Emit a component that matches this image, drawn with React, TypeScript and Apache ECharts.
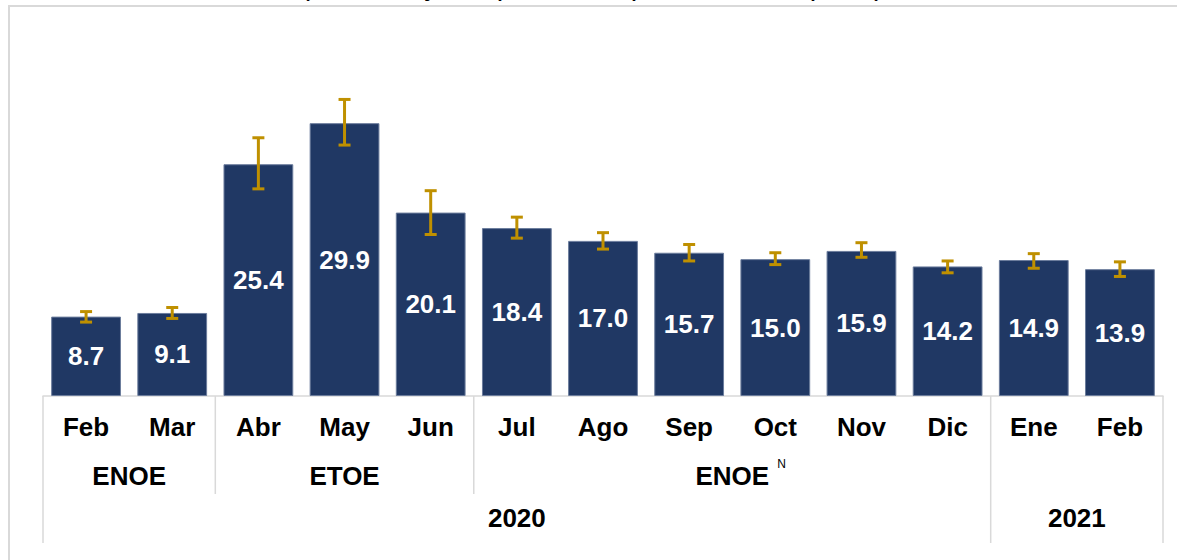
import React, { useEffect, useRef } from 'react';
import * as echarts from 'echarts';

const months = ['Feb', 'Mar', 'Abr', 'May', 'Jun', 'Jul', 'Ago', 'Sep', 'Oct', 'Nov', 'Dic', 'Ene', 'Feb'];
const values = [8.7, 9.1, 25.4, 29.9, 20.1, 18.4, 17.0, 15.7, 15.0, 15.9, 14.2, 14.9, 13.9];
const errLow = [8.1, 8.5, 22.7, 27.5, 17.7, 17.3, 16.1, 14.8, 14.4, 15.2, 13.5, 14.0, 13.1];
const errHigh = [9.25, 9.7, 28.3, 32.5, 22.5, 19.6, 17.9, 16.6, 15.7, 16.8, 14.8, 15.6, 14.7];
const surveyLabels = ['ENOE', 'ETOE', 'ENOE'];
const surveySup = ['', '', 'N'];
const surveyStart = [0, 2, 5];
const surveyEnd = [1, 4, 10];
const yearLabels = ['2020', '2021'];
const yearStart = [0, 11];
const yearEnd = [10, 12];
const titleText = '(Porcentaje respecto a la población ocupada)';

const FONT = 'Liberation Sans, Arial, sans-serif';
const GRID = '#d9d9d9';

export default function App() {
  const ref = useRef<HTMLDivElement>(null);
  useEffect(() => {
    document.body.style.margin = '0';
    const chart = echarts.init(ref.current!, null, { renderer: 'svg' });
    chart.setOption({
      animation: false,
      grid: { left: 43, right: 14, top: 31, bottom: 164 },
      xAxis: {
        type: 'category',
        data: months,
        axisLine: { lineStyle: { color: GRID, width: 1.5 } },
        axisTick: { show: false },
        axisLabel: { color: '#000', fontWeight: 'bold', fontSize: 26, fontFamily: FONT, margin: 18, interval: 0 },
      },
      yAxis: { type: 'value', min: 0, max: 40, show: false },
      series: [
        {
          type: 'bar',
          data: values,
          barCategoryGap: '19%',
          itemStyle: { color: '#203864', borderColor: '#6b7c9c', borderWidth: 1 },
          label: {
            show: true,
            position: 'inside',
            color: '#fff',
            fontWeight: 'bold',
            fontSize: 26,
            fontFamily: FONT,
            formatter: (p: any) => values[p.dataIndex].toFixed(1),
          },
        },
        {
          type: 'custom',
          z: 10,
          encode: { x: 0, y: [1, 2] },
          data: months.map((_, i) => [i, errLow[i], errHigh[i]]),
          renderItem: (params: any, api: any) => {
            const x = api.value(0);
            const pHi = api.coord([x, api.value(2)]);
            const pLo = api.coord([x, api.value(1)]);
            const cap = 6;
            const st = { stroke: '#BF9000', lineWidth: 3 };
            return {
              type: 'group',
              children: [
                { type: 'line', shape: { x1: pHi[0], y1: pHi[1], x2: pLo[0], y2: pLo[1] }, style: st },
                { type: 'line', shape: { x1: pHi[0] - cap, y1: pHi[1], x2: pHi[0] + cap, y2: pHi[1] }, style: st },
                { type: 'line', shape: { x1: pLo[0] - cap, y1: pLo[1], x2: pLo[0] + cap, y2: pLo[1] }, style: st },
              ],
            };
          },
        },
      ],
    });

    const cx = (i: number) => chart.convertToPixel({ xAxisIndex: 0 }, i) as number;
    const band = cx(1) - cx(0);
    const leftOf = (i: number) => cx(i) - band / 2;
    const rightOf = (i: number) => cx(i) + band / 2;
    const y0 = chart.convertToPixel({ yAxisIndex: 0 }, 0) as number;

    const graphics: any[] = [
      {
        type: 'rect',
        z: -10,
        shape: { x: 9, y: 6, width: 1400, height: 800 },
        style: { fill: 'none', stroke: GRID, lineWidth: 2 },
      },
      {
        type: 'text',
        x: 592,
        y: -1,
        style: { text: titleText, font: `29px ${FONT}`, fill: '#000', align: 'center', verticalAlign: 'bottom' },
      },
    ];
    const vline = (x: number, len: number) => ({
      type: 'line',
      shape: { x1: x, y1: y0, x2: x, y2: y0 + len },
      style: { stroke: GRID, lineWidth: 1.5 },
    });
    for (let k = 1; k < surveyStart.length; k++) graphics.push(vline(leftOf(surveyStart[k]), 98));
    yearStart.forEach((s) => graphics.push(vline(leftOf(s), 147)));
    graphics.push(vline(rightOf(yearEnd[yearEnd.length - 1]), 147));

    surveyLabels.forEach((t, k) => {
      const c = (leftOf(surveyStart[k]) + rightOf(surveyEnd[k])) / 2;
      graphics.push({
        type: 'text',
        x: c,
        y: y0 + 80,
        style: { text: t, font: `bold 26px ${FONT}`, fill: '#000', align: 'center', verticalAlign: 'middle' },
      });
      if (surveySup[k]) {
        graphics.push({
          type: 'text',
          x: c + 45,
          y: y0 + 68,
          style: { text: surveySup[k], font: `12px ${FONT}`, fill: '#000', align: 'left', verticalAlign: 'middle' },
        });
      }
    });
    yearLabels.forEach((t, k) => {
      const c = (leftOf(yearStart[k]) + rightOf(yearEnd[k])) / 2;
      graphics.push({
        type: 'text',
        x: c,
        y: y0 + 122,
        style: { text: t, font: `bold 26px ${FONT}`, fill: '#000', align: 'center', verticalAlign: 'middle' },
      });
    });
    chart.setOption({ graphic: graphics });

    return () => chart.dispose();
  }, []);
  return <div ref={ref} style={{ width: 1177, height: 560 }} />;
}
